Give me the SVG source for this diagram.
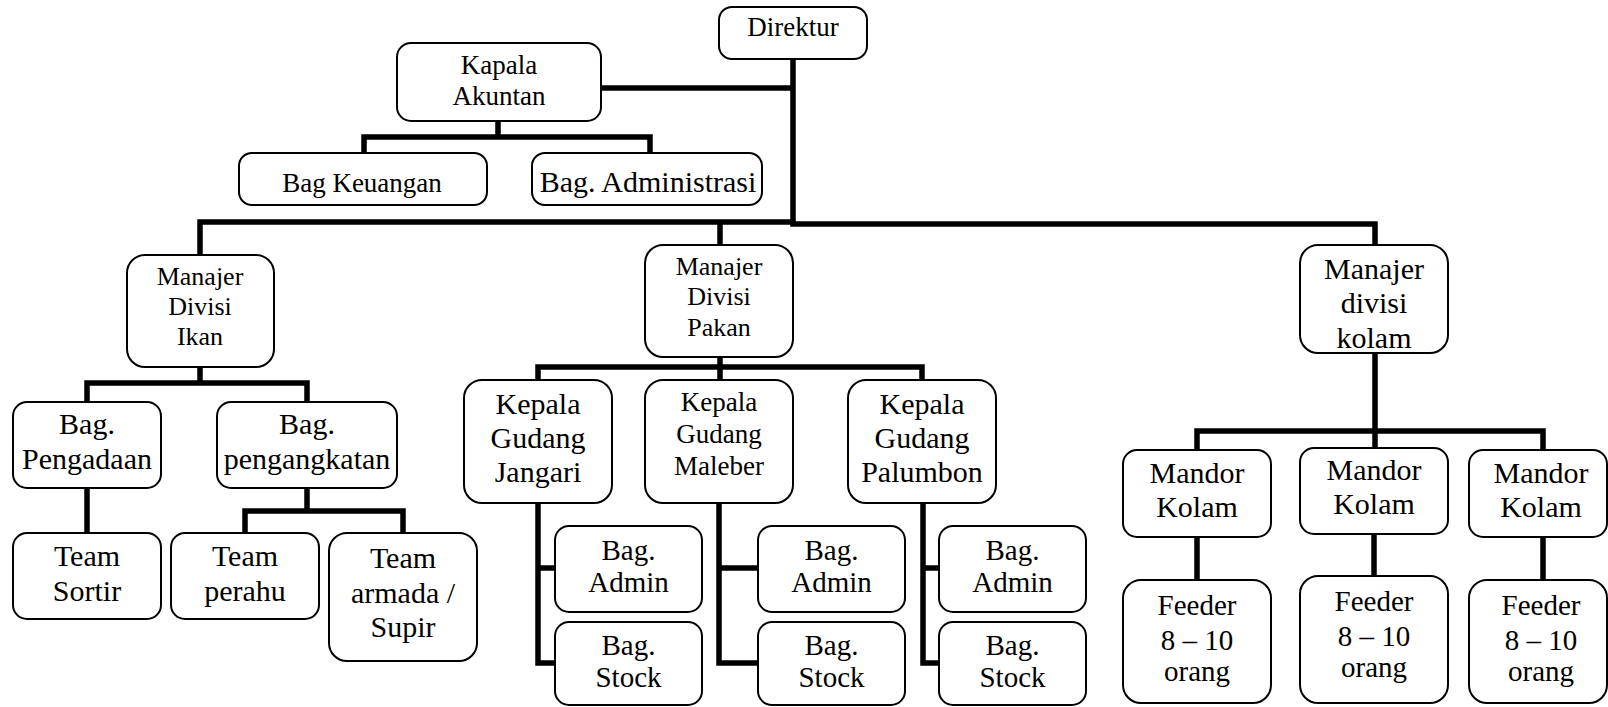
<svg xmlns="http://www.w3.org/2000/svg" width="1608" height="707" viewBox="0 0 1608 707">
<style>
.b{fill:#fff;stroke:#000;stroke-width:2}
.c{fill:none;stroke:#000;stroke-width:5.5;stroke-linejoin:miter;stroke-linecap:butt}
</style>
<rect width="1608" height="707" fill="#fff"/>
<g id="connectors">
<path class="c" d="M793,59 V224 H1375 V245"/>
<path class="c" d="M200,255 V222 H793"/>
<path class="c" d="M720,222 V245"/>
<path class="c" d="M601,88 H793"/>
<path class="c" d="M498,121 V137 M364,153 V137 H650 V153"/>
<path class="c" d="M200,367 V383 M87,402 V383 H307 V402"/>
<path class="c" d="M87,488 V533"/>
<path class="c" d="M307,488 V511 M245,533 V511 H403 V533"/>
<path class="c" d="M720,357 V380 M538,380 V367 H922 V380"/>
<path class="c" d="M538,503 V663 H555 M538,568 H555"/>
<path class="c" d="M719,503 V663 H758 M719,568 H758"/>
<path class="c" d="M923,503 V663 H939 M923,568 H939"/>
<path class="c" d="M1375,353 V450 M1197,450 V431 H1543 V450"/>
<path class="c" d="M1197,537 V580 M1374,534 V576 M1543,537 V580"/>
</g>
<g id="nodes">
<g id="direktur"><rect class="b" x="719" y="7" width="148" height="52" rx="13"/><text font-family="Liberation Serif" font-size="27" text-anchor="middle" x="793" y="36">Direktur</text></g>
<g id="kapala-akuntan"><rect class="b" x="397" y="43" width="204" height="78" rx="14"/><text font-family="Liberation Serif" font-size="27" text-anchor="middle" x="499" y="74">Kapala</text><text font-family="Liberation Serif" font-size="27" text-anchor="middle" x="499" y="105">Akuntan</text></g>
<g id="bag-keuangan"><rect class="b" x="239" y="153" width="248" height="52" rx="13"/><text font-family="Liberation Serif" font-size="27" text-anchor="middle" x="362" y="192">Bag Keuangan</text></g>
<g id="bag-administrasi"><rect class="b" x="532" y="153" width="230" height="52" rx="13"/><text font-family="Liberation Serif" font-size="30" text-anchor="middle" x="648" y="192">Bag. Administrasi</text></g>
<g id="manajer-ikan"><rect class="b" x="127" y="255" width="147" height="112" rx="18"/><text font-family="Liberation Serif" font-size="26" text-anchor="middle" x="200" y="285">Manajer</text><text font-family="Liberation Serif" font-size="26" text-anchor="middle" x="200" y="315">Divisi</text><text font-family="Liberation Serif" font-size="26" text-anchor="middle" x="200" y="345">Ikan</text></g>
<g id="bag-pengadaan"><rect class="b" x="13" y="402" width="148" height="86" rx="14"/><text font-family="Liberation Serif" font-size="30" text-anchor="middle" x="87" y="434">Bag.</text><text font-family="Liberation Serif" font-size="30" text-anchor="middle" x="87" y="469">Pengadaan</text></g>
<g id="bag-pengangkatan"><rect class="b" x="217" y="402" width="180" height="86" rx="14"/><text font-family="Liberation Serif" font-size="30" text-anchor="middle" x="307" y="434">Bag.</text><text font-family="Liberation Serif" font-size="30" text-anchor="middle" x="307" y="469">pengangkatan</text></g>
<g id="team-sortir"><rect class="b" x="13" y="533" width="148" height="86" rx="14"/><text font-family="Liberation Serif" font-size="30" text-anchor="middle" x="87" y="566">Team</text><text font-family="Liberation Serif" font-size="30" text-anchor="middle" x="87" y="601">Sortir</text></g>
<g id="team-perahu"><rect class="b" x="171" y="533" width="148" height="86" rx="14"/><text font-family="Liberation Serif" font-size="30" text-anchor="middle" x="245" y="566">Team</text><text font-family="Liberation Serif" font-size="30" text-anchor="middle" x="245" y="601">perahu</text></g>
<g id="team-armada"><rect class="b" x="329" y="533" width="148" height="128" rx="18"/><text font-family="Liberation Serif" font-size="30" text-anchor="middle" x="403" y="568">Team</text><text font-family="Liberation Serif" font-size="30" text-anchor="middle" x="403" y="603">armada /</text><text font-family="Liberation Serif" font-size="30" text-anchor="middle" x="403" y="637">Supir</text></g>
<g id="manajer-pakan"><rect class="b" x="645" y="245" width="148" height="112" rx="18"/><text font-family="Liberation Serif" font-size="26" text-anchor="middle" x="719" y="275">Manajer</text><text font-family="Liberation Serif" font-size="26" text-anchor="middle" x="719" y="305">Divisi</text><text font-family="Liberation Serif" font-size="26" text-anchor="middle" x="719" y="336">Pakan</text></g>
<g id="kepala-jangari"><rect class="b" x="464" y="380" width="148" height="123" rx="18"/><text font-family="Liberation Serif" font-size="30" text-anchor="middle" x="538" y="414">Kepala</text><text font-family="Liberation Serif" font-size="30" text-anchor="middle" x="538" y="448">Gudang</text><text font-family="Liberation Serif" font-size="30" text-anchor="middle" x="538" y="482">Jangari</text></g>
<g id="kepala-maleber"><rect class="b" x="645" y="380" width="148" height="123" rx="18"/><text font-family="Liberation Serif" font-size="27" text-anchor="middle" x="719" y="411">Kepala</text><text font-family="Liberation Serif" font-size="27" text-anchor="middle" x="719" y="443">Gudang</text><text font-family="Liberation Serif" font-size="27" text-anchor="middle" x="719" y="475">Maleber</text></g>
<g id="kepala-palumbon"><rect class="b" x="848" y="380" width="148" height="123" rx="18"/><text font-family="Liberation Serif" font-size="30" text-anchor="middle" x="922" y="414">Kepala</text><text font-family="Liberation Serif" font-size="30" text-anchor="middle" x="922" y="448">Gudang</text><text font-family="Liberation Serif" font-size="30" text-anchor="middle" x="922" y="482">Palumbon</text></g>
<g id="admin-jangari"><rect class="b" x="555" y="526" width="147" height="86" rx="14"/><text font-family="Liberation Serif" font-size="29" text-anchor="middle" x="628.5" y="560">Bag.</text><text font-family="Liberation Serif" font-size="29" text-anchor="middle" x="628.5" y="592">Admin</text></g>
<g id="stock-jangari"><rect class="b" x="555" y="622" width="147" height="83" rx="14"/><text font-family="Liberation Serif" font-size="29" text-anchor="middle" x="628.5" y="655">Bag.</text><text font-family="Liberation Serif" font-size="29" text-anchor="middle" x="628.5" y="687">Stock</text></g>
<g id="admin-maleber"><rect class="b" x="758" y="526" width="147" height="86" rx="14"/><text font-family="Liberation Serif" font-size="29" text-anchor="middle" x="831.5" y="560">Bag.</text><text font-family="Liberation Serif" font-size="29" text-anchor="middle" x="831.5" y="592">Admin</text></g>
<g id="stock-maleber"><rect class="b" x="758" y="622" width="147" height="83" rx="14"/><text font-family="Liberation Serif" font-size="29" text-anchor="middle" x="831.5" y="655">Bag.</text><text font-family="Liberation Serif" font-size="29" text-anchor="middle" x="831.5" y="687">Stock</text></g>
<g id="admin-palumbon"><rect class="b" x="939" y="526" width="147" height="86" rx="14"/><text font-family="Liberation Serif" font-size="29" text-anchor="middle" x="1012.5" y="560">Bag.</text><text font-family="Liberation Serif" font-size="29" text-anchor="middle" x="1012.5" y="592">Admin</text></g>
<g id="stock-palumbon"><rect class="b" x="939" y="622" width="147" height="83" rx="14"/><text font-family="Liberation Serif" font-size="29" text-anchor="middle" x="1012.5" y="655">Bag.</text><text font-family="Liberation Serif" font-size="29" text-anchor="middle" x="1012.5" y="687">Stock</text></g>
<g id="manajer-kolam"><rect class="b" x="1300" y="245" width="148" height="108" rx="18"/><text font-family="Liberation Serif" font-size="30" text-anchor="middle" x="1374" y="279">Manajer</text><text font-family="Liberation Serif" font-size="30" text-anchor="middle" x="1374" y="313">divisi</text><text font-family="Liberation Serif" font-size="30" text-anchor="middle" x="1374" y="348">kolam</text></g>
<g id="mandor-1"><rect class="b" x="1123" y="450" width="148" height="87" rx="14"/><text font-family="Liberation Serif" font-size="30" text-anchor="middle" x="1197" y="483">Mandor</text><text font-family="Liberation Serif" font-size="30" text-anchor="middle" x="1197" y="517">Kolam</text></g>
<g id="mandor-2"><rect class="b" x="1300" y="448" width="148" height="86" rx="14"/><text font-family="Liberation Serif" font-size="30" text-anchor="middle" x="1374" y="480">Mandor</text><text font-family="Liberation Serif" font-size="30" text-anchor="middle" x="1374" y="514">Kolam</text></g>
<g id="mandor-3"><rect class="b" x="1469" y="450" width="138" height="87" rx="14"/><text font-family="Liberation Serif" font-size="30" text-anchor="middle" x="1541" y="483">Mandor</text><text font-family="Liberation Serif" font-size="30" text-anchor="middle" x="1541" y="517">Kolam</text></g>
<g id="feeder-1"><rect class="b" x="1123" y="580" width="148" height="123" rx="18"/><text font-family="Liberation Serif" font-size="29" text-anchor="middle" x="1197" y="615">Feeder</text><text font-family="Liberation Serif" font-size="29" text-anchor="middle" x="1197" y="650">8 &#8211; 10</text><text font-family="Liberation Serif" font-size="29" text-anchor="middle" x="1197" y="681">orang</text></g>
<g id="feeder-2"><rect class="b" x="1300" y="576" width="148" height="127" rx="18"/><text font-family="Liberation Serif" font-size="29" text-anchor="middle" x="1374" y="611">Feeder</text><text font-family="Liberation Serif" font-size="29" text-anchor="middle" x="1374" y="646">8 &#8211; 10</text><text font-family="Liberation Serif" font-size="29" text-anchor="middle" x="1374" y="677">orang</text></g>
<g id="feeder-3"><rect class="b" x="1469" y="580" width="138" height="123" rx="18"/><text font-family="Liberation Serif" font-size="29" text-anchor="middle" x="1541" y="615">Feeder</text><text font-family="Liberation Serif" font-size="29" text-anchor="middle" x="1541" y="650">8 &#8211; 10</text><text font-family="Liberation Serif" font-size="29" text-anchor="middle" x="1541" y="681">orang</text></g>
</g>
</svg>
